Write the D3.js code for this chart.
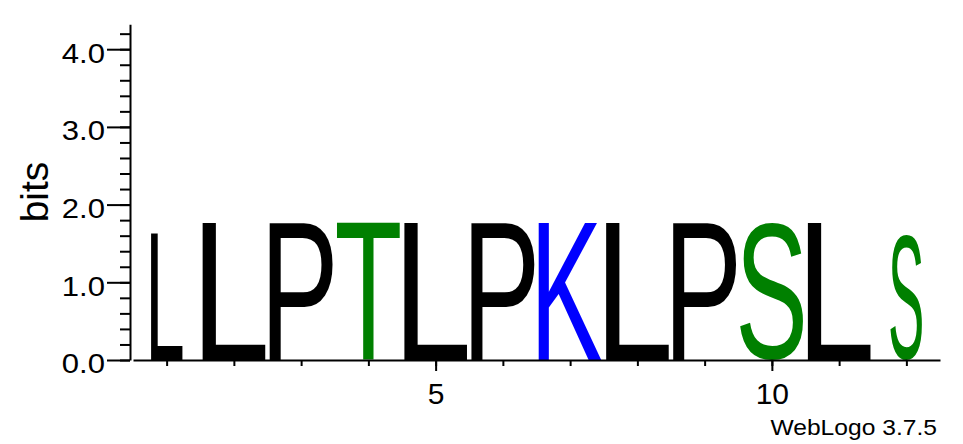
<!DOCTYPE html>
<html lang="en">
<head>
    <meta charset="UTF-8">
    <title>WebLogo</title>
    <script src="https://d3js.org/d3.v7.min.js"></script>
    <style>
        body { margin: 0; background: #fff; }
        svg { display: block; }
        text { font-family: "Liberation Sans", Arial, sans-serif; }
        .axis path, .axis line { stroke: #000; stroke-width: 2px; }
    </style>
</head>
<body>
    <svg id="logo" width="963" height="444"></svg>

    <script>
        // sequence logo data
        const positions = [1, 2, 3, 4, 5, 6, 7, 8, 9, 10, 11, 12];
        const letters = ["L", "L", "P", "T", "L", "P", "K", "L", "P", "S", "L", "S"];
        const bits = [1.63, 1.77, 1.77, 1.77, 1.77, 1.77, 1.77, 1.77, 1.77, 1.77, 1.77, 1.63];
        const stackWidth = [0.5, 1, 1, 1, 1, 1, 1, 1, 1, 1, 1, 0.5];
        const yMajorTicks = [0, 1, 2, 3, 4];
        const yMinorTicks = [0, 0.2, 0.4, 0.6, 0.8, 1.0, 1.2, 1.4, 1.6, 1.8, 2.0, 2.2, 2.4, 2.6, 2.8, 3.0, 3.2, 3.4, 3.6, 3.8, 4.0, 4.2];
        const xMajorTicks = [5, 10];

        const colors = { L: "#000000", P: "#000000", T: "#008000", S: "#008000", K: "#0000ff" };

        const svg = d3.select("#logo");

        const x = d3.scaleLinear().domain([0.5, 12.5]).range([133, 940]);
        const y = d3.scaleLinear().domain([0, Math.log2(20)]).range([360, 360 - Math.log2(20) * 77.7]);

        // measure the ink box of a glyph so it can be stretched into its slot
        const ctx = document.createElement("canvas").getContext("2d");
        const FS = 200;
        ctx.font = FS + "px 'Liberation Sans'";
        function inkBox(ch) {
            const m = ctx.measureText(ch);
            return { l: m.actualBoundingBoxLeft, r: m.actualBoundingBoxRight,
                     a: m.actualBoundingBoxAscent, d: m.actualBoundingBoxDescent };
        }

        const colW = x(2) - x(1);
        const glyphs = svg.append("g");
        positions.forEach((p, i) => {
            const w = colW * 0.94 * stackWidth[i];
            const x0 = x(p) - w / 2, x1 = x(p) + w / 2;
            const y0 = y(bits[i]), y1 = y(0);
            const b = inkBox(letters[i]);
            const sx = (x1 - x0) / (b.l + b.r);
            const sy = (y1 - y0) / (b.a + b.d);
            glyphs.append("text")
                .attr("font-size", FS)
                .attr("fill", colors[letters[i]])
                .attr("transform", `translate(${x0 + b.l * sx},${y1 - b.d * sy}) scale(${sx},${sy})`)
                .text(letters[i]);
        });

        // y axis
        const yMinor = svg.append("g")
            .attr("class", "axis")
            .attr("transform", "translate(130,0)")
            .call(d3.axisLeft(y).tickValues(yMinorTicks).tickSize(10).tickSizeOuter(0));
        yMinor.selectAll("text").remove();
        const yMajor = svg.append("g")
            .attr("class", "axis")
            .attr("transform", "translate(130,0)")
            .call(d3.axisLeft(y).tickValues(yMajorTicks).tickSize(23).tickSizeOuter(0).tickFormat(d3.format(".1f")));
        yMajor.select(".domain").remove();
        yMajor.selectAll("text")
            .attr("x", -25 / 1.15)
            .attr("dy", "0.48em")
            .attr("transform", "scale(1.15,1)")
            .attr("font-size", 27)
            .attr("font-family", "Liberation Sans")
            .attr("fill", "#000");

        // x axis
        const xMinor = svg.append("g")
            .attr("class", "axis")
            .attr("transform", "translate(0,360)")
            .call(d3.axisBottom(x).tickValues(positions).tickSize(6).tickSizeOuter(0));
        xMinor.selectAll("text").remove();
        const xMajor = svg.append("g")
            .attr("class", "axis")
            .attr("transform", "translate(0,360)")
            .call(d3.axisBottom(x).tickValues(xMajorTicks).tickSize(11).tickSizeOuter(0));
        xMajor.select(".domain").remove();
        xMajor.selectAll("text")
            .attr("y", 43.5)
            .attr("dy", 0)
            .attr("font-size", 30)
            .attr("font-family", "Liberation Sans")
            .attr("fill", "#000");

        svg.append("text")
            .attr("transform", "translate(48,192) rotate(-90)")
            .attr("text-anchor", "middle")
            .attr("font-size", 39)
            .text("bits");

        svg.append("text")
            .attr("transform", "translate(937,435) scale(1.12,1)")
            .attr("text-anchor", "end")
            .attr("font-size", 22)
            .text("WebLogo 3.7.5");
    </script>
</body>
</html>
